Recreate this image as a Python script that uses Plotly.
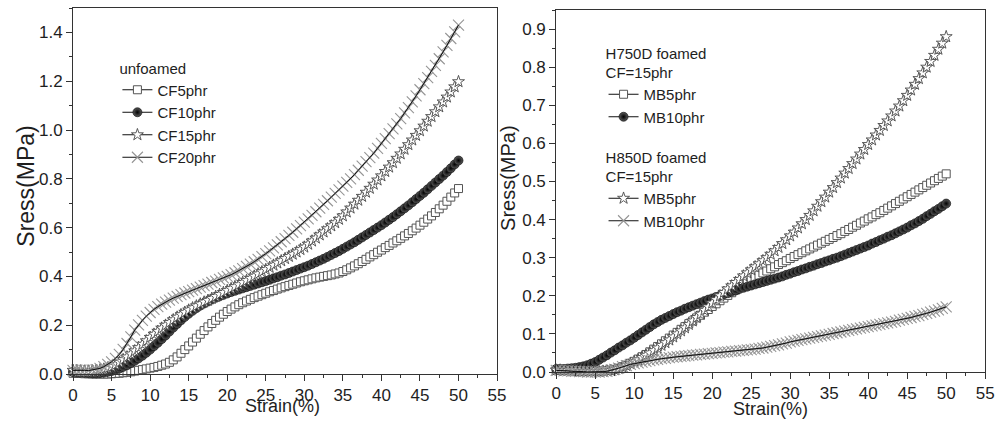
import plotly.graph_objects as go

# Strain grid (%) shared by every specimen, sampled every 0.5 %
strain = [i / 2 for i in range(101)]

# Unfoamed samples, stress (MPa)
cf5 = [.003, .002, .002, .001, .001, .000, .000, .000, .000, .000, .001, .002, .003, .005, .007, .009, .012, .015, .018, .021,
       .024, .027, .031, .036, .041, .048, .058, .070, .085, .100, .115, .131, .147, .163, .178, .193, .207, .220, .233, .245,
       .256, .266, .275, .284, .292, .299, .306, .313, .319, .325, .331, .337, .342, .348, .353, .358, .363, .368, .373, .378,
       .382, .386, .390, .394, .397, .400, .403, .406, .410, .414, .420, .427, .435, .443, .452, .461, .470, .480, .489, .499,
       .508, .518, .527, .537, .546, .556, .566, .576, .587, .598, .610, .622, .635, .648, .662, .677, .692, .708, .725, .742,
       .760]
cf10 = [.008, .007, .006, .005, .004, .003, .003, .004, .006, .009, .012, .017, .022, .029, .036, .045, .054, .064, .075, .087,
        .100, .114, .128, .143, .158, .174, .190, .205, .220, .234, .247, .259, .270, .280, .289, .297, .305, .312, .318, .324,
        .330, .336, .341, .346, .351, .356, .361, .366, .371, .376, .381, .386, .392, .397, .403, .408, .414, .420, .426, .432,
        .438, .444, .451, .458, .465, .472, .480, .488, .496, .504, .513, .522, .531, .540, .550, .560, .570, .580, .590, .600,
        .610, .621, .632, .643, .655, .667, .679, .691, .704, .717, .730, .743, .757, .771, .785, .799, .813, .828, .843, .859,
        .875]
cf15 = [.015, .014, .013, .012, .012, .013, .015, .017, .020, .025, .030, .038, .048, .059, .070, .082, .095, .108, .122, .136,
        .150, .163, .175, .188, .200, .211, .222, .233, .243, .253, .262, .271, .279, .287, .295, .302, .310, .318, .326, .334,
        .342, .350, .358, .366, .375, .383, .392, .401, .410, .419, .428, .437, .446, .455, .464, .473, .482, .491, .500, .510,
        .520, .532, .545, .557, .570, .582, .595, .607, .620, .634, .648, .664, .680, .696, .712, .728, .745, .761, .778, .795,
        .812, .830, .848, .866, .884, .902, .921, .940, .959, .978, .997, 1.016, 1.036, 1.055, 1.075, 1.095, 1.115, 1.135, 1.156, 1.177,
        1.198]
cf20 = [.015, .016, .016, .015, .014, .016, .018, .023, .030, .039, .050, .064, .080, .101, .125, .152, .180, .201, .220, .237,
        .252, .265, .276, .286, .295, .303, .311, .318, .325, .332, .338, .344, .350, .356, .362, .368, .375, .381, .388, .394,
        .400, .407, .415, .423, .432, .441, .450, .460, .470, .481, .493, .505, .517, .529, .542, .555, .568, .581, .595, .608,
        .622, .636, .650, .665, .680, .695, .710, .725, .740, .755, .770, .785, .800, .817, .835, .852, .870, .887, .905, .925,
        .945, .965, .985, 1.005, 1.025, 1.047, 1.070, 1.092, 1.115, 1.140, 1.165, 1.190, 1.215, 1.240, 1.265, 1.292, 1.320, 1.347, 1.375, 1.402,
        1.430]

# Foamed samples (CF = 15 phr), stress (MPa)
h750_mb5 = [.005, .005, .004, .004, .003, .003, .002, .002, .002, .002, .002, .002, .003, .004, .005, .007, .010, .014, .018, .023,
            .028, .034, .040, .046, .053, .060, .067, .074, .082, .089, .097, .104, .112, .119, .127, .134, .142, .149, .157, .164,
            .172, .179, .187, .194, .201, .208, .215, .222, .229, .235, .242, .248, .254, .260, .265, .271, .276, .282, .287, .292,
            .298, .303, .308, .313, .318, .323, .328, .333, .338, .343, .348, .353, .358, .363, .369, .374, .380, .385, .391, .396,
            .402, .407, .413, .418, .424, .430, .436, .442, .448, .454, .460, .466, .472, .478, .484, .490, .496, .502, .508, .514,
            .520]
h750_mb10 = [.008, .008, .008, .009, .010, .011, .013, .015, .018, .022, .026, .032, .038, .044, .051, .057, .064, .070, .077, .083,
             .090, .097, .104, .111, .118, .125, .131, .137, .142, .147, .152, .157, .161, .166, .170, .174, .178, .182, .186, .190,
             .193, .197, .200, .204, .207, .211, .214, .218, .221, .224, .227, .230, .233, .236, .239, .242, .245, .248, .251, .255,
             .258, .262, .265, .269, .272, .276, .279, .283, .286, .290, .293, .297, .300, .304, .308, .312, .316, .320, .324, .328,
             .332, .337, .341, .346, .350, .355, .359, .364, .369, .374, .379, .385, .390, .396, .402, .409, .415, .422, .428, .435,
             .442]
h850_mb5 = [.005, .005, .004, .004, .003, .003, .002, .002, .001, .001, .001, .001, .002, .003, .004, .006, .009, .013, .017, .022,
            .027, .032, .038, .044, .050, .056, .063, .070, .077, .084, .092, .100, .108, .116, .125, .134, .143, .152, .162, .171,
            .181, .190, .200, .209, .218, .226, .235, .243, .252, .260, .268, .276, .284, .292, .300, .309, .318, .327, .337, .347,
            .357, .367, .378, .389, .400, .411, .423, .435, .447, .459, .472, .484, .497, .509, .522, .534, .547, .559, .572, .584,
            .597, .609, .622, .634, .647, .659, .672, .685, .698, .712, .726, .740, .755, .770, .785, .800, .815, .831, .847, .863,
            .880]
h850_mb10 = [.004, .004, .003, .003, .002, .002, .001, .001, .000, .000, .000, .000, .001, .002, .004, .007, .010, .014, .017, .020,
             .022, .024, .026, .028, .030, .032, .033, .035, .036, .038, .039, .040, .041, .042, .043, .044, .045, .046, .047, .048,
             .049, .050, .051, .052, .053, .054, .055, .056, .057, .058, .059, .060, .062, .063, .065, .067, .069, .071, .074, .076,
             .079, .081, .083, .085, .087, .089, .091, .093, .095, .097, .099, .101, .103, .105, .107, .109, .111, .113, .115, .117,
             .119, .121, .123, .125, .127, .129, .131, .133, .136, .138, .141, .143, .146, .148, .151, .154, .157, .160, .163, .167,
             .171]

FONT = "Liberation Sans, Arial, sans-serif"
INK = "#1e1e1e"
AXIS = "#333333"

square = dict(symbol="square", size=8, color="white", line=dict(color="#555555", width=1))
ball = dict(symbol="circle", size=9, color="#5a5a5a",
            gradient=dict(type="radial", color="#000000"), line=dict(color="#000000", width=0.6))
star = dict(symbol="star", size=9, color="white", line=dict(color="#4a4a4a", width=0.9))
cross = dict(symbol="x-thin", size=11, line=dict(color="#959595", width=1.1))

fig = go.Figure()


def add(y, name, marker, xa, ya, legend, line_on_top=False):
    fig.add_trace(go.Scatter(
        x=strain, y=y, name=name, mode="lines+markers",
        line=dict(color="#111111", width=1), marker=marker,
        xaxis=xa, yaxis=ya, legend=legend, cliponaxis=False,
    ))
    if line_on_top:
        # thin connecting curve drawn again above the open cross markers
        fig.add_trace(go.Scatter(
            x=strain, y=y, mode="lines", line=dict(color="#111111", width=1),
            xaxis=xa, yaxis=ya, showlegend=False, hoverinfo="skip",
        ))


add(cf5, "CF5phr", square, "x", "y", "legend")
add(cf10, "CF10phr", ball, "x", "y", "legend")
add(cf15, "CF15phr", star, "x", "y", "legend")
add(cf20, "CF20phr", cross, "x", "y", "legend", line_on_top=True)

add(h750_mb5, "MB5phr", square, "x2", "y2", "legend2")
add(h750_mb10, "MB10phr", ball, "x2", "y2", "legend2")
add(h850_mb5, "MB5phr", star, "x2", "y2", "legend3")
add(h850_mb10, "MB10phr", cross, "x2", "y2", "legend3", line_on_top=True)

W, H = 1007, 423
T, B = 8, 49
PH = H - T - B

tickfont = dict(family=FONT, size=17, color=INK)
common_axis = dict(
    showline=True, linecolor=AXIS, linewidth=1, mirror=True,
    ticks="outside", ticklen=6, tickwidth=1, tickcolor=AXIS,
    showgrid=False, zeroline=False, tickfont=tickfont,
)

xaxis_common = dict(common_axis, range=[0, 55], dtick=5, tick0=0,
                    minor=dict(ticks="outside", ticklen=3, dtick=2.5, tick0=0, tickcolor=AXIS))

legend_font = dict(family=FONT, size=15, color=INK)

fig.update_layout(
    width=W, height=H,
    margin=dict(l=0, r=0, t=T, b=B),
    paper_bgcolor="white", plot_bgcolor="white",
    font=dict(family=FONT, color=INK),
    xaxis=dict(xaxis_common, domain=[69 / W, 499 / W], anchor="y"),
    yaxis=dict(common_axis, range=[0, 1.5], dtick=0.2, tick0=0, tickformat=".1f", anchor="x",
               domain=[0, 1],
               minor=dict(ticks="outside", ticklen=3, dtick=0.1, tick0=0, tickcolor=AXIS)),
    xaxis2=dict(xaxis_common, domain=[559 / W, 994 / W], anchor="y2"),
    yaxis2=dict(common_axis, range=[0, 0.95], dtick=0.1, tick0=0, tickformat=".1f", anchor="x2",
                domain=[2 / PH, 1 - 2 / PH],
                minor=dict(ticks="outside", ticklen=3, dtick=0.05, tick0=0, tickcolor=AXIS)),
    showlegend=True,
    legend=dict(
        title=dict(text="unfoamed", font=legend_font),
        x=114 / W, y=(H - B - 54) / PH, xanchor="left", yanchor="top",
        bgcolor="rgba(0,0,0,0)", borderwidth=0, font=legend_font,
    ),
    legend2=dict(
        title=dict(text="H750D foamed<br>CF=15phr", font=legend_font),
        x=607 / W, y=(H - B - 39) / PH, xanchor="left", yanchor="top",
        bgcolor="rgba(0,0,0,0)", borderwidth=0, font=legend_font,
    ),
    legend3=dict(
        title=dict(text="H850D foamed<br>CF=15phr", font=legend_font),
        x=607 / W, y=(H - B - 143) / PH, xanchor="left", yanchor="top",
        bgcolor="rgba(0,0,0,0)", borderwidth=0, font=legend_font,
    ),
)


# Axis titles
def title(text, x_px, y_px, size, angle=0):
    fig.add_annotation(
        text=text, xref="paper", yref="paper",
        x=x_px / W, y=(H - B - y_px) / PH,
        showarrow=False, textangle=angle,
        font=dict(family=FONT, size=size, color=INK),
        xanchor="center", yanchor="middle",
    )


title("Strain(%)", 281, 406, 18)
title("Strain(%)", 776, 409, 18)
title("Sress(MPa)", 21, 186, 23, -90)
title("Sress(MPa)", 510, 178, 20, -90)

fig.write_html("out.html")
